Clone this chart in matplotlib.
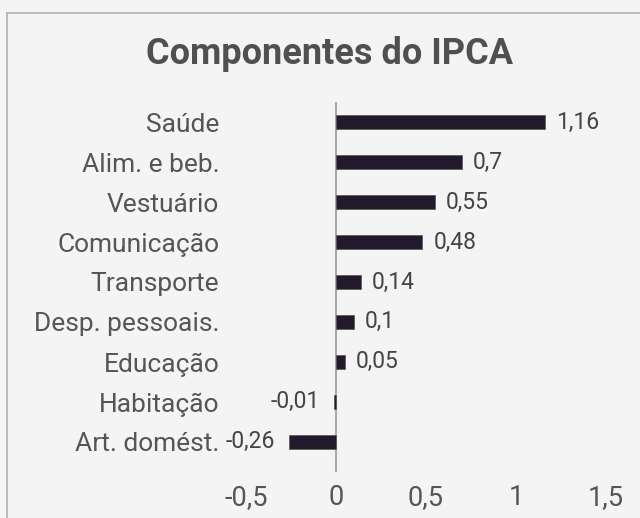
import matplotlib.pyplot as plt
from matplotlib.lines import Line2D

categories = ['Saúde', 'Alim. e beb.', 'Vestuário', 'Comunicação', 'Transporte',
              'Desp. pessoais.', 'Educação', 'Habitação', 'Art. domést.']
values = [1.16, 0.7, 0.55, 0.48, 0.14, 0.1, 0.05, -0.01, -0.26]
value_labels = ['1,16', '0,7', '0,55', '0,48', '0,14', '0,1', '0,05', '-0,01', '-0,26']
xticks = [-0.5, 0, 0.5, 1, 1.5]
xtick_labels = ['-0,5', '0', '0,5', '1', '1,5']

plt.rcParams['font.family'] = ['Roboto', 'DejaVu Sans']
bg = '#f4f4f4'
text_color = '#555555'

fig = plt.figure(figsize=(6.4, 5.18), dpi=100, facecolor=bg)
ax = fig.add_axes([0.384, 0.089, 0.563, 0.714])
ax.set_facecolor(bg)

pos = list(range(len(categories)))
ax.barh(pos, values, height=0.35, color='#221a2c', edgecolor='#555555', linewidth=0.5)

# value labels: right of positive bars, left of negative ones
for p, v, lab in zip(pos, values, value_labels):
    if v >= 0:
        ax.annotate(lab, (v, p), xytext=(11, 0), textcoords='offset pixels',
                    ha='left', va='center', fontsize=16.5, color='#444444')
    else:
        ax.annotate(lab, (v, p), xytext=(-14, 0), textcoords='offset pixels',
                    ha='right', va='center', fontsize=16.5, color='#444444')

ax.set_xlim(-0.5, 1.5)
ax.set_ylim(8.75, -0.5)
ax.set_xticks(xticks)
ax.set_xticklabels(xtick_labels)
ax.set_yticks(pos)
ax.set_yticklabels(categories)
ax.tick_params(axis='x', length=0, pad=9, labelsize=19.5, labelcolor=text_color)
ax.tick_params(axis='y', length=0, pad=19, labelsize=19, labelcolor=text_color)
for s in ax.spines.values():
    s.set_visible(False)
ax.axvline(0, color='#aaaaaa', linewidth=1.5, zorder=0)

fig.text(330 / 640, 0.895, 'Componentes do IPCA', ha='center', va='center',
         fontsize=26, fontweight='bold', color='#505050')

# outer frame (only top and left visible in the crop)
fig.add_artist(Line2D([7 / 640, 7 / 640], [0, 1 - 13 / 518], transform=fig.transFigure,
                      color='#b0b0b0', linewidth=1.2))
fig.add_artist(Line2D([7 / 640, 1], [1 - 13 / 518, 1 - 13 / 518], transform=fig.transFigure,
                      color='#b0b0b0', linewidth=1.2))

fig.savefig('out.png', dpi=100, facecolor=bg)
